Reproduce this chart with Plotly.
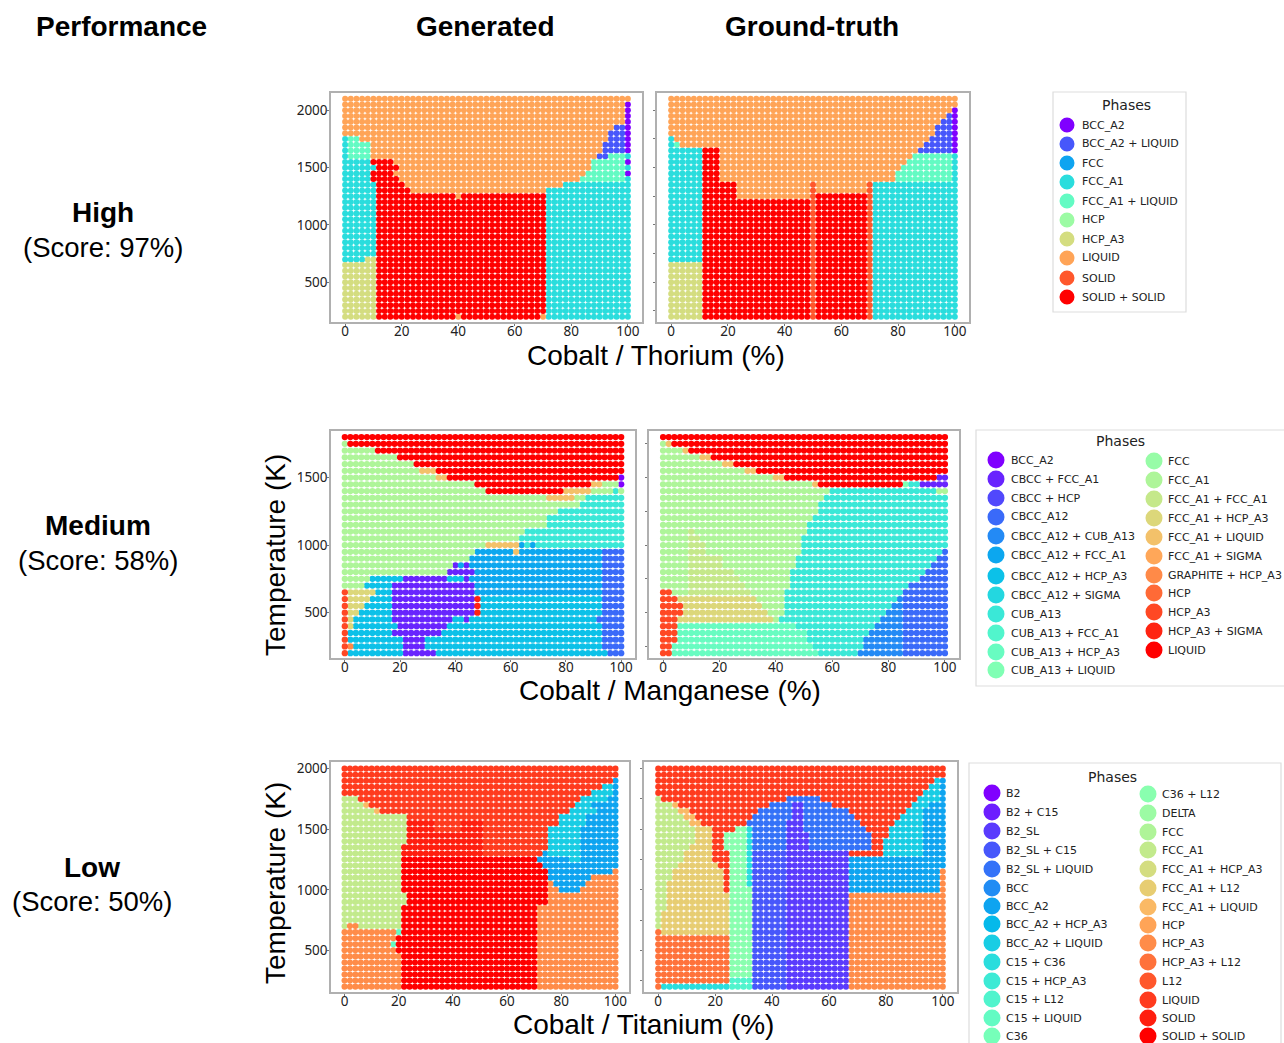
import math
import re
import plotly.graph_objects as go

W, H = 1284, 1043
LETTERS = "abcdefghijklmnopqrstuvwxyzAB"

PHASES_THORIUM = ["BCC_A2", "BCC_A2 + LIQUID", "FCC", "FCC_A1", "FCC_A1 + LIQUID", "HCP", "HCP_A3",
                  "LIQUID", "SOLID", "SOLID + SOLID"]
PHASES_MANGANESE = ["BCC_A2", "CBCC + FCC_A1", "CBCC + HCP", "CBCC_A12", "CBCC_A12 + CUB_A13",
                    "CBCC_A12 + FCC_A1", "CBCC_A12 + HCP_A3", "CBCC_A12 + SIGMA", "CUB_A13",
                    "CUB_A13 + FCC_A1", "CUB_A13 + HCP_A3", "CUB_A13 + LIQUID", "FCC", "FCC_A1",
                    "FCC_A1 + FCC_A1", "FCC_A1 + HCP_A3", "FCC_A1 + LIQUID", "FCC_A1 + SIGMA",
                    "GRAPHITE + HCP_A3", "HCP", "HCP_A3", "HCP_A3 + SIGMA", "LIQUID"]
PHASES_TITANIUM = ["B2", "B2 + C15", "B2_SL", "B2_SL + C15", "B2_SL + LIQUID", "BCC", "BCC_A2",
                   "BCC_A2 + HCP_A3", "BCC_A2 + LIQUID", "C15 + C36", "C15 + HCP_A3", "C15 + L12",
                   "C15 + LIQUID", "C36", "C36 + L12", "DELTA", "FCC", "FCC_A1", "FCC_A1 + HCP_A3",
                   "FCC_A1 + L12", "FCC_A1 + LIQUID", "HCP", "HCP_A3", "HCP_A3 + L12", "L12",
                   "LIQUID", "SOLID", "SOLID + SOLID"]

# Phase maps: one string per temperature row (hottest first), run-length coded over composition
# 0, 2, ... 100 %. A letter is the position of the phase in the list above.
TH_GEN = ["h51", "h50 a1", "h50 a1", "h50 a1", "h50 a1", "h48 b2 a1", "h47 b3 a1", "d1 e2 h44 b3 a1",
          "d1 e4 h41 b4 a1", "d1 e4 h41 b4 a1", "d1 e4 h40 b2 e3 d1", "d5 j4 h35 e6 a1", "d6 j4 h34 e6 d1",
          "d5 j4 h34 e7 a1", "d5 j5 h32 e8 d1", "d6 j5 h28 d12", "d6 j6 h24 d15", "d6 j14 h1 j15 d15",
          "d6 j30 d15", "d6 j30 d15", "d6 j30 d15", "d6 j30 d15", "d6 j30 d15", "d6 j30 d15", "d6 j30 d15",
          "d6 j30 d15", "d6 j30 d15", "d6 j30 d15", "d4 g2 j30 d15", "g6 j30 d15", "g6 j30 d15", "g6 j30 d15",
          "g6 j30 d15", "g6 j30 d15", "g6 j30 d15", "g6 j30 d15", "g6 j30 d15", "g6 j30 d15",
          "g6 j14 h1 j14 h1 d15"]
TH_TRUE = ["h51", "h51", "h50 a1", "h49 b1 a1", "h48 b2 a1", "h47 b3 a1", "h47 b3 a1", "d1 h45 b4 a1",
           "d1 e1 h43 b5 a1", "d6 j3 h35 b6 a1", "d6 j3 h34 e7 d1", "d6 j3 h33 e8 d1", "d6 j3 h32 e9 d1",
           "d6 j3 h31 e10 d1", "d6 j3 h31 e10 d1", "d6 j6 h13 i1 h9 i1 d15", "d6 j6 h13 i1 h9 i1 d15",
           "d6 j6 h13 i1 j9 i1 d15", "d6 j19 i1 j9 i1 d15", "d6 j19 i1 j9 i1 d15", "d6 j19 i1 j9 i1 d15",
           "d6 j19 i1 j9 i1 d15", "d6 j19 i1 j9 i1 d15", "d6 j19 i1 j9 i1 d15", "d6 j19 i1 j9 i1 d15",
           "d6 j19 i1 j9 i1 d15", "d6 j19 i1 j9 i1 d15", "d6 j19 i1 j9 i1 d15", "d6 j19 i1 j9 i1 d15",
           "g6 j19 i1 j9 i1 d15", "g6 j19 i1 j9 i1 d15", "g6 j19 i1 j9 i1 d15", "g6 j19 i1 j9 i1 d15",
           "g6 j19 i1 j9 i1 d15", "g6 j19 i1 j9 i1 d15", "g6 j19 i1 j9 i1 d15", "g6 j19 i1 j9 i1 d15",
           "g6 j19 i1 j9 i1 d15", "g6 j19 i1 j9 i1 d15"]
MN_GEN = ["w51", "n1 w50", "n6 w45", "n10 w41", "n13 w38", "n14 q3 w34", "n17 q2 w31 a1", "n24 w21 q2 n3 a1",
          "n26 w14 q5 n4 i1 n1", "n37 q5 n2 i7", "n43 i8", "n39 i12", "n37 i14", "n37 i14", "n33 i18", "n32 i19",
          "n26 q6 f1 i1 f1 i16", "n24 f7 q1 f15 d4", "n23 f24 d4", "n20 b1 f1 b1 f24 d4", "n19 b5 f23 d4",
          "n5 g6 b8 g3 b1 f24 d4", "n4 g5 b15 f23 d4", "u1 p5 g3 b15 f23 d4", "u1 p4 g4 b15 v1 g22 d4",
          "u1 p3 g5 b15 v1 g22 d4", "u1 p2 g6 b15 v1 g22 d4", "u1 p1 g7 b11 g2 b1 g23 d5",
          "u1 p1 g8 b9 g28 d4", "u1 g8 b9 g29 d4", "u1 g10 b4 g32 d4", "u1 s1 g9 b4 g32 d4", "u1 g10 b6 g31 d3"]
MN_TRUE = ["w51", "n1 q1 w49", "n4 q1 w46", "n7 q2 w42", "n11 q2 w38", "n15 q2 w34", "n20 q2 w27 b2",
           "n27 q1 w15 l1 i2 b5", "n30 i19 n2", "n29 i22", "n28 i23", "n28 i23", "n27 i24", "n26 i25",
           "n5 o1 n20 i25", "n5 o2 n18 i26", "n5 o3 n17 i26", "n5 o3 n17 i25 d1", "n5 o6 n13 i25 d2",
           "n5 o6 n13 i24 d3", "n5 o8 n10 i24 d4", "n5 o9 n9 i23 d5", "n5 o10 n8 i21 d7", "u2 n3 o11 n6 i21 d8",
           "u3 p14 n5 i20 e1 d8", "u4 p14 n4 i19 e2 d8", "u4 p15 n3 i18 e3 d8", "u3 p17 n1 i18 e4 d8",
           "u3 k21 i14 e5 d8", "u3 k23 i11 e6 d8", "u3 k23 i10 e7 d8", "u2 k25 i9 e7 d8", "u2 k26 i7 e8 d8"]
TI_GEN = ["z51", "z51", "z50 g1", "z48 i2 g1", "z46 i4 g1", "r3 z41 i5 g2", "r4 u1 z38 i3 g5", "r6 u1 z35 i5 g4",
          "r12 z28 i5 g6", "r12 A5 z5 A4 z14 i5 g6", "r12 A5 z5 A4 z12 i6 g7", "r12 A14 z12 i6 g7",
          "r12 A14 z12 i6 g7", "r11 A15 z12 i6 g7", "r11 A15 z11 g1 i6 g7", "r11 B25 g6 i2 g7", "r11 B26 g14",
          "r11 B27 g12 w1", "r11 B27 g8 w5", "r11 B27 w1 g6 w6", "r11 B27 w2 g4 w7", "r12 B26 w13", "r12 B26 w13",
          "r11 B25 w15", "r11 B25 w15", "r11 B25 w15", "r1 w2 r8 B25 w15", "w10 m1 B25 w15", "w10 B26 w15",
          "w9 m1 B26 w15", "w10 B26 w15", "w11 B25 w15", "w11 B25 w15", "w11 B25 w15", "w11 B25 w15",
          "w11 B25 w15", "w11 B25 w15"]
TI_TRUE = ["z51", "z51", "z49 i1 g1", "z48 i2 g1", "z47 i3 g1", "r1 z22 e6 z17 i4 g1",
           "r3 u1 z16 e4 c2 e5 z14 i3 g3", "r4 u2 z12 e6 c2 e8 z10 i3 g4", "r5 u2 z10 e7 c2 e9 z8 i4 g4",
           "r6 u2 z8 e7 c3 e10 z6 i5 g4", "r7 t3 z4 o2 j1 e6 c3 e11 z4 i6 g4", "r7 t3 z2 o4 j1 e6 c4 e11 z3 i6 g4",
           "r7 t3 z2 o4 j1 e6 c4 e11 z2 i7 g4", "r6 t4 z2 o4 j1 e6 c4 e11 z2 i7 g4",
           "r5 t5 z3 o3 j1 d6 c11 z6 i7 g4", "r5 t5 z3 o3 j1 d6 c11 g17", "r4 t7 z2 o3 j1 d6 c11 g17",
           "r3 t9 z1 o3 j1 d6 c11 g16 w1", "r3 t9 z1 o3 j1 d6 c11 g16 w1", "r2 t10 z1 o3 j1 d6 c11 g16 w1",
           "r2 t10 z1 o4 d6 c11 g16 w1", "r2 t11 o4 d6 c11 w17", "r2 t11 o4 d6 c11 w17", "r2 t11 o4 d6 c11 w17",
           "r1 t12 o4 d6 c11 w17", "r1 t12 o4 d6 c11 w17", "r1 t12 o4 d6 c11 w17", "x1 t12 o4 d6 c11 w17",
           "x13 o4 d6 c11 w17", "x13 o4 d6 c11 w17", "x13 o4 d6 c11 w17", "x13 o4 d6 c11 w17", "x13 o4 d6 c11 w17",
           "x13 o4 d6 c11 w17", "x13 o4 d6 c11 w17", "x13 l4 d6 c11 w17", "x1 j12 l4 d6 c11 w17"]

COMPOSITION = list(range(0, 102, 2))
TEMPS_TH = list(range(2100, 150, -50))
TEMPS_MN = list(range(1800, 150, -50))
TEMPS_TI = list(range(2000, 150, -50))
X_TICKS = [0, 20, 40, 60, 80, 100]


def rainbow(i, n):
    t = i / (n - 1)
    r = min(1, abs(2 * t - 0.5))
    g = math.sin(math.pi * t)
    b = math.cos(math.pi * t / 2)
    return f"rgb({round(r * 255)},{round(g * 255)},{round(b * 255)})"


def expand(row):
    cells = []
    for code, count in re.findall(r"([A-Za-z])(\d+)", row):
        cells += [code] * int(count)
    assert len(cells) == len(COMPOSITION), (row, len(cells))
    return cells


PANELS = [
    (TH_GEN, TEMPS_TH, PHASES_THORIUM, (331, 642, 93, 322), (154, 2151), 6.0, True),
    (TH_TRUE, TEMPS_TH, PHASES_THORIUM, (657, 969, 93, 322), (154, 2151), 6.0, False),
    (MN_GEN, TEMPS_MN, PHASES_MANGANESE, (331, 635, 431, 658), (164, 1845), 6.3, True),
    (MN_TRUE, TEMPS_MN, PHASES_MANGANESE, (649, 959, 431, 658), (164, 1845), 6.3, False),
    (TI_GEN, TEMPS_TI, PHASES_TITANIUM, (331, 629, 762, 992), (156, 2055), 6.1, True),
    (TI_TRUE, TEMPS_TI, PHASES_TITANIUM, (644, 957, 762, 992), (156, 2055), 6.1, False),
]

fig = go.Figure()
AXIS_LINE = "#b0b0b0"
TICK_FONT = dict(family="Noto Sans", size=13.5, color="#222222")

for idx, (rows, temps, phases, (l, r, t, b), yrange, msize, labels) in enumerate(PANELS, start=1):
    cells = [expand(row) for row in rows]
    assert len(cells) == len(temps), idx
    for i, phase in enumerate(phases):
        code = LETTERS[i]
        xs, ys = [], []
        for temp, row in zip(temps, cells):
            for comp, c in zip(COMPOSITION, row):
                if c == code:
                    xs.append(comp)
                    ys.append(temp)
        if xs:
            fig.add_trace(go.Scatter(x=xs, y=ys, mode="markers", name=phase, showlegend=False,
                                     marker=dict(size=msize, color=rainbow(i, len(phases))),
                                     xaxis=f"x{idx}", yaxis=f"y{idx}"))
    fig.update_layout({
        f"xaxis{idx}": dict(domain=[l / W, r / W], range=[-5, 105], tickvals=X_TICKS, showgrid=False,
                            zeroline=False, showline=True, mirror=True, linecolor=AXIS_LINE, linewidth=1.5,
                            ticks="outside", ticklen=2, tickcolor="#777777", tickfont=TICK_FONT,
                            ticklabelstandoff=-6, anchor=f"y{idx}"),
        f"yaxis{idx}": dict(domain=[1 - b / H, 1 - t / H], range=list(yrange), dtick=500 if labels else 250,
                            tick0=0, showticklabels=labels, showgrid=False, zeroline=False, showline=True,
                            mirror=True, linecolor=AXIS_LINE, linewidth=1.5, ticks="outside",
                            ticklen=2, tickcolor="#777777", tickfont=TICK_FONT, ticklabelstandoff=-3,
                            anchor=f"x{idx}"),
    })


def text(x, y, s, size, bold=False, family="Liberation Sans", angle=0, color="#000000", anchor="center"):
    fig.add_annotation(x=x / W, y=1 - y / H, xref="paper", yref="paper", text=f"<b>{s}</b>" if bold else s,
                       showarrow=False, xanchor=anchor, yanchor="middle", textangle=angle,
                       font=dict(family=family, size=size, color=color))


# Legend columns: phases, full list for colour, marker x, text x, row y positions, marker diameter (px)
LEGEND_COLUMNS = [
    (PHASES_THORIUM, PHASES_THORIUM, 1067, 1080, [125, 144, 163, 182, 201, 220, 239, 258, 278, 297], 15),
    (PHASES_MANGANESE[:12], PHASES_MANGANESE, 996, 1009, [460, 479, 498, 517, 536, 555, 576, 595, 614, 633, 652, 670], 17),
    (PHASES_MANGANESE[12:], PHASES_MANGANESE, 1154, 1166, [461, 480, 499, 518, 537, 556, 575, 593, 612, 631, 650], 17),
    (PHASES_TITANIUM[:14], PHASES_TITANIUM, 992, 1004, [793, 812, 831, 850, 869, 888, 906, 924, 943, 962, 981, 999, 1018, 1036], 17),
    (PHASES_TITANIUM[14:], PHASES_TITANIUM, 1148, 1160, [794, 813, 832, 850, 869, 888, 907, 925, 943, 962, 981, 1000, 1018, 1036], 17),
]
for group, full, mx, tx, ys, d in LEGEND_COLUMNS:
    for phase, y in zip(group, ys):
        fig.add_shape(type="circle", xref="paper", yref="paper", x0=(mx - d / 2) / W, x1=(mx + d / 2) / W,
                      y0=1 - (y + d / 2) / H, y1=1 - (y - d / 2) / H,
                      fillcolor=rainbow(full.index(phase), len(full)), line=dict(width=0))
        text(tx, y, phase, 11, family="DejaVu Sans", color="#222222", anchor="left")

for x, y, s in [(121, 26, "Performance"), (485, 26, "Generated"), (812, 26, "Ground-truth"),
                (103, 213, "High"), (98, 525, "Medium"), (92, 867, "Low")]:
    text(x, y, s, 28, bold=True)
for x, y, s in [(103, 247, "(Score: 97%)"), (98, 560, "(Score: 58%)"), (92, 901, "(Score: 50%)")]:
    text(x, y, s, 27.5)
for x, y, s in [(656, 355, "Cobalt / Thorium (%)"), (670, 690, "Cobalt / Manganese (%)"),
                (644, 1024, "Cobalt / Titanium (%)")]:
    text(x, y, s, 28)
text(275, 555, "Temperature (K)", 28, angle=-90)
text(275, 883, "Temperature (K)", 28, angle=-90)
for x, y in [(1126, 105), (1120, 441), (1112, 777)]:
    text(x, y, "Phases", 14, family="DejaVu Sans", color="#222222")

for l, r, t, b in [(1053, 1186, 92, 312), (976, 1290, 430, 686), (969, 1281, 763, 1050)]:
    fig.add_shape(type="rect", xref="paper", yref="paper", x0=l / W, x1=r / W, y0=1 - b / H, y1=1 - t / H,
                  line=dict(color="#dddddd", width=1.2), layer="below")

fig.update_layout(width=W, height=H, margin=dict(l=0, r=0, t=0, b=0, autoexpand=False),
                  paper_bgcolor="white", plot_bgcolor="white", showlegend=False)
fig.write_html("out.html", config={"displayModeBar": False},
               post_script="document.body.style.margin='0';document.body.style.overflow='hidden';")
